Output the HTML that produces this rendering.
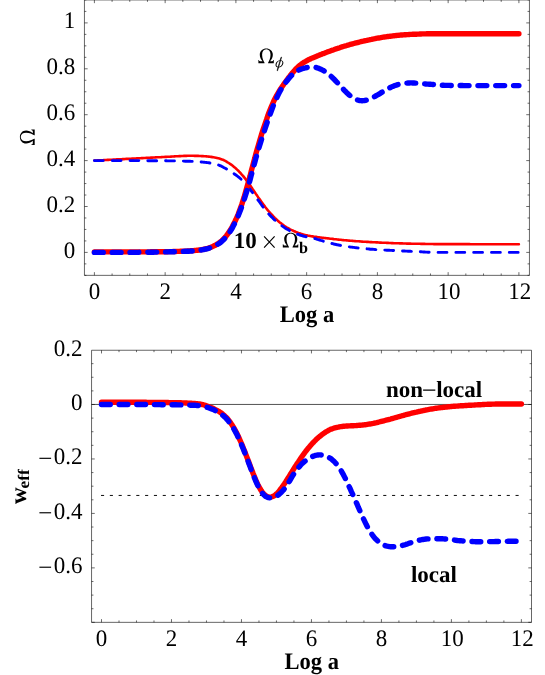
<!DOCTYPE html>
<html><head><meta charset="utf-8"><title>plot</title>
<style>html,body{margin:0;padding:0;background:#fff;}svg{display:block;will-change:transform;}</style></head>
<body>
<svg width="545" height="675" viewBox="0 0 545 675">
<rect width="545" height="675" fill="#fff"/>
<g>
<path d="M94.4,160.5 95.6,160.5 96.8,160.5 97.9,160.4 99.1,160.3 100.3,160.3 101.5,160.2 102.7,160.2 103.8,160.1 105.0,160.0 106.2,160.0 107.4,159.9 108.6,159.9 109.7,159.8 110.9,159.7 112.1,159.7 113.3,159.6 114.4,159.6 115.6,159.5 116.8,159.4 118.0,159.4 119.2,159.3 120.3,159.3 121.5,159.2 122.7,159.1 123.9,159.1 125.1,159.0 126.2,158.9 127.4,158.9 128.6,158.8 129.8,158.8 131.0,158.7 132.1,158.6 133.3,158.6 134.5,158.5 135.7,158.5 136.8,158.4 138.0,158.3 139.2,158.3 140.4,158.2 141.6,158.1 142.7,158.1 143.9,158.0 145.1,158.0 146.3,157.9 147.5,157.8 148.6,157.8 149.8,157.7 151.0,157.6 152.2,157.6 153.4,157.5 154.5,157.5 155.7,157.4 156.9,157.3 158.1,157.3 159.3,157.2 160.4,157.2 161.6,157.1 162.8,157.0 164.0,157.0 165.2,156.9 166.3,156.9 167.5,156.8 168.7,156.7 169.9,156.7 171.0,156.6 172.2,156.5 173.4,156.5 174.6,156.4 175.8,156.3 176.9,156.2 178.1,156.2 179.3,156.1 180.5,156.1 181.7,156.0 182.8,156.0 184.0,155.9 185.2,155.9 186.4,155.9 187.6,155.8 188.7,155.8 189.9,155.8 191.1,155.8 192.3,155.8 193.4,155.8 194.6,155.9 195.8,155.9 197.0,155.9 198.2,155.9 199.3,156.0 200.5,156.0 201.7,156.1 202.9,156.1 204.1,156.2 205.2,156.3 206.4,156.4 207.6,156.5 208.8,156.6 210.0,156.7 211.1,156.9 212.3,157.1 213.5,157.3 214.7,157.5 215.9,157.7 217.0,158.0 218.2,158.3 219.4,158.6 220.6,159.0 221.8,159.4 222.9,159.8 224.1,160.3 225.3,160.9 226.5,161.6 227.6,162.3 228.8,163.0 230.0,163.8 231.2,164.6 232.4,165.5 233.5,166.4 234.7,167.4 235.9,168.5 237.1,169.6 238.3,170.7 239.4,172.0 240.6,173.2 241.8,174.6 243.0,175.9 244.2,177.4 245.3,178.8 246.5,180.4 247.7,181.9 248.9,183.6 250.1,185.2 251.2,186.9 252.4,188.7 253.6,190.4 254.8,192.2 255.9,193.9 257.1,195.6 258.3,197.4 259.5,199.1 260.7,200.8 261.8,202.4 263.0,204.0 264.2,205.6 265.4,207.2 266.6,208.7 267.7,210.1 268.9,211.5 270.1,212.9 271.3,214.2 272.5,215.5 273.6,216.7 274.8,217.9 276.0,219.0 277.2,220.1 278.4,221.2 279.5,222.2 280.7,223.1 281.9,224.1 283.1,224.9 284.2,225.8 285.4,226.5 286.6,227.3 287.8,228.0 289.0,228.6 290.1,229.3 291.3,229.9 292.5,230.4 293.7,231.0 294.9,231.5 296.0,232.0 297.2,232.4 298.4,232.9 299.6,233.3 300.8,233.7 301.9,234.1 303.1,234.4 304.3,234.8 305.5,235.1 306.6,235.3 307.8,235.6 309.0,235.8 310.2,236.0 311.4,236.2 312.5,236.4 313.7,236.6 314.9,236.7 316.1,236.9 317.3,237.1 318.4,237.2 319.6,237.4 320.8,237.5 322.0,237.7 323.2,237.8 324.3,238.0 325.5,238.1 326.7,238.3 327.9,238.4 329.1,238.5 330.2,238.7 331.4,238.8 332.6,238.9 333.8,239.1 334.9,239.2 336.1,239.3 337.3,239.5 338.5,239.6 339.7,239.7 340.8,239.8 342.0,240.0 343.2,240.1 344.4,240.2 345.6,240.3 346.7,240.4 347.9,240.5 349.1,240.6 350.3,240.7 351.5,240.8 352.6,240.9 353.8,241.0 355.0,241.1 356.2,241.2 357.4,241.3 358.5,241.3 359.7,241.4 360.9,241.5 362.1,241.6 363.2,241.7 364.4,241.7 365.6,241.8 366.8,241.9 368.0,241.9 369.1,242.0 370.3,242.1 371.5,242.1 372.7,242.2 373.9,242.3 375.0,242.3 376.2,242.4 377.4,242.4 378.6,242.5 379.8,242.6 380.9,242.6 382.1,242.7 383.3,242.7 384.5,242.8 385.7,242.8 386.8,242.9 388.0,242.9 389.2,243.0 390.4,243.0 391.6,243.1 392.7,243.1 393.9,243.2 395.1,243.2 396.3,243.3 397.4,243.3 398.6,243.3 399.8,243.4 401.0,243.4 402.2,243.4 403.3,243.5 404.5,243.5 405.7,243.5 406.9,243.6 408.1,243.6 409.2,243.6 410.4,243.6 411.6,243.7 412.8,243.7 414.0,243.7 415.1,243.7 416.3,243.8 417.5,243.8 418.7,243.8 419.9,243.8 421.0,243.9 422.2,243.9 423.4,243.9 424.6,243.9 425.7,244.0 426.9,244.0 428.1,244.0 429.3,244.0 430.5,244.0 431.6,244.0 432.8,244.0 434.0,244.1 435.2,244.1 436.4,244.1 437.5,244.1 438.7,244.1 439.9,244.1 441.1,244.1 442.3,244.1 443.4,244.1 444.6,244.1 445.8,244.1 447.0,244.1 448.1,244.1 449.3,244.1 450.5,244.1 451.7,244.1 452.9,244.1 454.0,244.1 455.2,244.1 456.4,244.1 457.6,244.1 458.8,244.1 459.9,244.1 461.1,244.1 462.3,244.1 463.5,244.1 464.7,244.1 465.8,244.1 467.0,244.1 468.2,244.1 469.4,244.1 470.6,244.2 471.7,244.2 472.9,244.2 474.1,244.2 475.3,244.2 476.5,244.2 477.6,244.2 478.8,244.2 480.0,244.2 481.2,244.2 482.3,244.2 483.5,244.2 484.7,244.2 485.9,244.2 487.1,244.2 488.2,244.2 489.4,244.2 490.6,244.2 491.8,244.2 493.0,244.2 494.1,244.2 495.3,244.2 496.5,244.2 497.7,244.2 498.9,244.2 500.0,244.2 501.2,244.2 502.4,244.2 503.6,244.2 504.8,244.2 505.9,244.2 507.1,244.2 508.3,244.2 509.5,244.2 510.6,244.2 511.8,244.2 513.0,244.2 514.2,244.2 515.4,244.2 516.5,244.2 517.7,244.2 518.9,244.2" fill="none" stroke="#ff0000" stroke-width="2.6" stroke-linecap="round" stroke-linejoin="round"/>
<path d="M94.4,160.6 95.6,160.6 96.8,160.6 97.9,160.6 99.1,160.6 100.3,160.6 101.5,160.6 102.7,160.6 103.8,160.6 105.0,160.6 106.2,160.6 107.4,160.6 108.6,160.6 109.7,160.6 110.9,160.6 112.1,160.6 113.3,160.6 114.4,160.6 115.6,160.6 116.8,160.6 118.0,160.6 119.2,160.6 120.3,160.6 121.5,160.6 122.7,160.6 123.9,160.6 125.1,160.6 126.2,160.6 127.4,160.6 128.6,160.6 129.8,160.6 131.0,160.6 132.1,160.6 133.3,160.6 134.5,160.6 135.7,160.6 136.8,160.6 138.0,160.6 139.2,160.6 140.4,160.6 141.6,160.6 142.7,160.6 143.9,160.6 145.1,160.7 146.3,160.7 147.5,160.7 148.6,160.7 149.8,160.7 151.0,160.7 152.2,160.7 153.4,160.7 154.5,160.7 155.7,160.7 156.9,160.8 158.1,160.8 159.3,160.8 160.4,160.8 161.6,160.8 162.8,160.8 164.0,160.8 165.2,160.8 166.3,160.8 167.5,160.9 168.7,160.9 169.9,160.9 171.0,160.9 172.2,160.9 173.4,160.9 174.6,160.9 175.8,161.0 176.9,161.0 178.1,161.0 179.3,161.0 180.5,161.1 181.7,161.1 182.8,161.1 184.0,161.1 185.2,161.2 186.4,161.2 187.6,161.2 188.7,161.3 189.9,161.3 191.1,161.4 192.3,161.4 193.4,161.5 194.6,161.5 195.8,161.6 197.0,161.7 198.2,161.7 199.3,161.8 200.5,161.9 201.7,162.0 202.9,162.1 204.1,162.2 205.2,162.4 206.4,162.5 207.6,162.6 208.8,162.8 210.0,163.0 211.1,163.1 212.3,163.3 213.5,163.5 214.7,163.8 215.9,164.1 217.0,164.4 218.2,164.8 219.4,165.3 220.6,165.8 221.8,166.4 222.9,167.0 224.1,167.7 225.3,168.3 226.5,169.0 227.6,169.7 228.8,170.4 230.0,171.2 231.2,171.9 232.4,172.6 233.5,173.4 234.7,174.2 235.9,175.0 237.1,175.9 238.3,176.8 239.4,177.7 240.6,178.8 241.8,179.9 243.0,181.0 244.2,182.2 245.3,183.5 246.5,184.9 247.7,186.3 248.9,187.8 250.1,189.3 251.2,190.8 252.4,192.4 253.6,194.0 254.8,195.6 255.9,197.2 257.1,198.8 258.3,200.4 259.5,202.0 260.7,203.7 261.8,205.3 263.0,206.9 264.2,208.4 265.4,209.9 266.6,211.4 267.7,212.8 268.9,214.1 270.1,215.4 271.3,216.6 272.5,217.8 273.6,219.0 274.8,220.1 276.0,221.1 277.2,222.1 278.4,223.1 279.5,224.1 280.7,224.9 281.9,225.8 283.1,226.6 284.2,227.4 285.4,228.2 286.6,228.9 287.8,229.6 289.0,230.3 290.1,230.9 291.3,231.5 292.5,232.1 293.7,232.6 294.9,233.1 296.0,233.6 297.2,234.1 298.4,234.5 299.6,235.0 300.8,235.3 301.9,235.7 303.1,236.0 304.3,236.3 305.5,236.6 306.6,236.9 307.8,237.1 309.0,237.3 310.2,237.6 311.4,237.8 312.5,238.1 313.7,238.3 314.9,238.6 316.1,238.9 317.3,239.3 318.4,239.6 319.6,240.0 320.8,240.4 322.0,240.7 323.2,241.1 324.3,241.5 325.5,241.8 326.7,242.2 327.9,242.5 329.1,242.8 330.2,243.1 331.4,243.4 332.6,243.7 333.8,244.0 334.9,244.3 336.1,244.5 337.3,244.8 338.5,245.0 339.7,245.2 340.8,245.5 342.0,245.7 343.2,245.9 344.4,246.1 345.6,246.3 346.7,246.5 347.9,246.6 349.1,246.8 350.3,247.0 351.5,247.1 352.6,247.3 353.8,247.4 355.0,247.6 356.2,247.7 357.4,247.9 358.5,248.0 359.7,248.1 360.9,248.2 362.1,248.4 363.2,248.5 364.4,248.6 365.6,248.7 366.8,248.8 368.0,248.9 369.1,249.0 370.3,249.2 371.5,249.2 372.7,249.3 373.9,249.4 375.0,249.5 376.2,249.6 377.4,249.7 378.6,249.8 379.8,249.8 380.9,249.9 382.1,250.0 383.3,250.0 384.5,250.1 385.7,250.1 386.8,250.2 388.0,250.3 389.2,250.3 390.4,250.4 391.6,250.4 392.7,250.5 393.9,250.5 395.1,250.6 396.3,250.6 397.4,250.7 398.6,250.7 399.8,250.8 401.0,250.8 402.2,250.9 403.3,251.0 404.5,251.0 405.7,251.1 406.9,251.1 408.1,251.2 409.2,251.2 410.4,251.3 411.6,251.4 412.8,251.4 414.0,251.5 415.1,251.6 416.3,251.6 417.5,251.7 418.7,251.7 419.9,251.8 421.0,251.8 422.2,251.9 423.4,252.0 424.6,252.0 425.7,252.1 426.9,252.1 428.1,252.2 429.3,252.2 430.5,252.2 431.6,252.3 432.8,252.3 434.0,252.3 435.2,252.3 436.4,252.4 437.5,252.4 438.7,252.4 439.9,252.4 441.1,252.4 442.3,252.4 443.4,252.4 444.6,252.4 445.8,252.4 447.0,252.4 448.1,252.4 449.3,252.4 450.5,252.4 451.7,252.4 452.9,252.4 454.0,252.4 455.2,252.4 456.4,252.4 457.6,252.4 458.8,252.4 459.9,252.4 461.1,252.4 462.3,252.4 463.5,252.4 464.7,252.4 465.8,252.4 467.0,252.4 468.2,252.4 469.4,252.4 470.6,252.4 471.7,252.4 472.9,252.4 474.1,252.4 475.3,252.4 476.5,252.4 477.6,252.4 478.8,252.4 480.0,252.4 481.2,252.4 482.3,252.4 483.5,252.4 484.7,252.4 485.9,252.4 487.1,252.4 488.2,252.4 489.4,252.4 490.6,252.4 491.8,252.4 493.0,252.4 494.1,252.4 495.3,252.4 496.5,252.4 497.7,252.4 498.9,252.4 500.0,252.4 501.2,252.4 502.4,252.4 503.6,252.4 504.8,252.4 505.9,252.4 507.1,252.4 508.3,252.4 509.5,252.4 510.6,252.4 511.8,252.4 513.0,252.4 514.2,252.4 515.4,252.4 516.5,252.4 517.7,252.4 518.9,252.4" fill="none" stroke="#0000ff" stroke-width="2.9" stroke-linecap="round" stroke-linejoin="round" stroke-dasharray="8.85 8.95"/>
<path d="M94.4,251.9 95.6,251.9 96.8,251.9 97.9,251.9 99.1,251.9 100.3,251.9 101.5,251.9 102.7,251.9 103.8,251.9 105.0,251.9 106.2,251.9 107.4,251.9 108.6,251.9 109.7,251.9 110.9,251.9 112.1,251.9 113.3,251.9 114.4,251.9 115.6,251.9 116.8,251.9 118.0,251.9 119.2,251.9 120.3,251.9 121.5,251.9 122.7,251.9 123.9,251.9 125.1,251.9 126.2,251.9 127.4,251.9 128.6,251.9 129.8,251.9 131.0,251.9 132.1,251.9 133.3,251.9 134.5,251.9 135.7,251.9 136.8,251.9 138.0,251.9 139.2,251.9 140.4,251.9 141.6,251.9 142.7,251.9 143.9,251.9 145.1,251.9 146.3,251.9 147.5,251.9 148.6,251.9 149.8,251.9 151.0,251.8 152.2,251.8 153.4,251.8 154.5,251.8 155.7,251.8 156.9,251.8 158.1,251.8 159.3,251.8 160.4,251.8 161.6,251.7 162.8,251.7 164.0,251.7 165.2,251.7 166.3,251.7 167.5,251.7 168.7,251.6 169.9,251.6 171.0,251.6 172.2,251.6 173.4,251.5 174.6,251.5 175.8,251.5 176.9,251.4 178.1,251.4 179.3,251.4 180.5,251.3 181.7,251.3 182.8,251.2 184.0,251.2 185.2,251.1 186.4,251.1 187.6,251.0 188.7,250.9 189.9,250.9 191.1,250.8 192.3,250.7 193.4,250.6 194.6,250.5 195.8,250.4 197.0,250.3 198.2,250.2 199.3,250.0 200.5,249.9 201.7,249.7 202.9,249.5 204.1,249.2 205.2,249.0 206.4,248.7 207.6,248.4 208.8,248.0 210.0,247.6 211.1,247.1 212.3,246.7 213.5,246.1 214.7,245.6 215.9,244.9 217.0,244.2 218.2,243.5 219.4,242.6 220.6,241.7 221.8,240.7 222.9,239.6 224.1,238.4 225.3,237.1 226.5,235.6 227.6,234.1 228.8,232.4 230.0,230.6 231.2,228.6 232.4,226.5 233.5,224.3 234.7,222.0 235.9,219.5 237.1,216.8 238.3,214.0 239.4,211.0 240.6,207.8 241.8,204.4 243.0,200.7 244.2,196.9 245.3,192.9 246.5,188.8 247.7,184.5 248.9,180.2 250.1,175.8 251.2,171.3 252.4,166.9 253.6,162.4 254.8,158.1 255.9,153.7 257.1,149.5 258.3,145.4 259.5,141.4 260.7,137.4 261.8,133.6 263.0,129.9 264.2,126.3 265.4,122.8 266.6,119.4 267.7,116.0 268.9,112.8 270.1,109.8 271.3,106.8 272.5,104.1 273.6,101.5 274.8,99.0 276.0,96.7 277.2,94.6 278.4,92.5 279.5,90.6 280.7,88.7 281.9,87.0 283.1,85.3 284.2,83.6 285.4,82.0 286.6,80.4 287.8,78.8 289.0,77.3 290.1,75.8 291.3,74.3 292.5,72.8 293.7,71.4 294.9,70.1 296.0,68.8 297.2,67.7 298.4,66.6 299.6,65.5 300.8,64.6 301.9,63.7 303.1,62.9 304.3,62.2 305.5,61.5 306.6,60.8 307.8,60.1 309.0,59.5 310.2,59.0 311.4,58.4 312.5,57.9 313.7,57.4 314.9,56.9 316.1,56.4 317.3,55.9 318.4,55.5 319.6,55.0 320.8,54.5 322.0,54.1 323.2,53.6 324.3,53.2 325.5,52.7 326.7,52.3 327.9,51.8 329.1,51.4 330.2,51.0 331.4,50.5 332.6,50.1 333.8,49.7 334.9,49.3 336.1,48.9 337.3,48.5 338.5,48.1 339.7,47.7 340.8,47.3 342.0,46.9 343.2,46.5 344.4,46.2 345.6,45.8 346.7,45.5 347.9,45.1 349.1,44.8 350.3,44.4 351.5,44.1 352.6,43.8 353.8,43.5 355.0,43.2 356.2,42.9 357.4,42.6 358.5,42.3 359.7,42.0 360.9,41.7 362.1,41.4 363.2,41.2 364.4,40.9 365.6,40.6 366.8,40.4 368.0,40.1 369.1,39.9 370.3,39.6 371.5,39.4 372.7,39.1 373.9,38.9 375.0,38.7 376.2,38.4 377.4,38.2 378.6,38.0 379.8,37.8 380.9,37.6 382.1,37.4 383.3,37.2 384.5,37.0 385.7,36.9 386.8,36.7 388.0,36.5 389.2,36.4 390.4,36.2 391.6,36.1 392.7,35.9 393.9,35.8 395.1,35.6 396.3,35.5 397.4,35.4 398.6,35.3 399.8,35.1 401.0,35.0 402.2,35.0 403.3,34.9 404.5,34.8 405.7,34.7 406.9,34.6 408.1,34.6 409.2,34.5 410.4,34.4 411.6,34.4 412.8,34.3 414.0,34.3 415.1,34.2 416.3,34.2 417.5,34.1 418.7,34.1 419.9,34.0 421.0,34.0 422.2,33.9 423.4,33.9 424.6,33.9 425.7,33.9 426.9,33.8 428.1,33.8 429.3,33.8 430.5,33.8 431.6,33.8 432.8,33.8 434.0,33.8 435.2,33.8 436.4,33.8 437.5,33.8 438.7,33.8 439.9,33.8 441.1,33.8 442.3,33.8 443.4,33.8 444.6,33.8 445.8,33.8 447.0,33.8 448.1,33.8 449.3,33.8 450.5,33.8 451.7,33.8 452.9,33.8 454.0,33.8 455.2,33.8 456.4,33.8 457.6,33.8 458.8,33.8 459.9,33.8 461.1,33.8 462.3,33.8 463.5,33.8 464.7,33.8 465.8,33.8 467.0,33.8 468.2,33.8 469.4,33.8 470.6,33.8 471.7,33.8 472.9,33.8 474.1,33.8 475.3,33.8 476.5,33.8 477.6,33.8 478.8,33.8 480.0,33.8 481.2,33.8 482.3,33.8 483.5,33.8 484.7,33.8 485.9,33.8 487.1,33.8 488.2,33.8 489.4,33.8 490.6,33.8 491.8,33.8 493.0,33.8 494.1,33.8 495.3,33.8 496.5,33.8 497.7,33.8 498.9,33.8 500.0,33.8 501.2,33.8 502.4,33.8 503.6,33.8 504.8,33.8 505.9,33.8 507.1,33.8 508.3,33.8 509.5,33.8 510.6,33.8 511.8,33.8 513.0,33.8 514.2,33.8 515.4,33.8 516.5,33.8 517.7,33.8 518.9,33.8" fill="none" stroke="#ff0000" stroke-width="5.4" stroke-linecap="round" stroke-linejoin="round"/>
<path d="M94.4,252.4 95.6,252.4 96.8,252.4 97.9,252.4 99.1,252.4 100.3,252.4 101.5,252.4 102.7,252.4 103.8,252.4 105.0,252.4 106.2,252.4 107.4,252.4 108.6,252.4 109.7,252.4 110.9,252.4 112.1,252.4 113.3,252.4 114.4,252.4 115.6,252.4 116.8,252.4 118.0,252.4 119.2,252.4 120.3,252.4 121.5,252.4 122.7,252.4 123.9,252.4 125.1,252.4 126.2,252.4 127.4,252.4 128.6,252.4 129.8,252.4 131.0,252.4 132.1,252.4 133.3,252.4 134.5,252.4 135.7,252.4 136.8,252.4 138.0,252.4 139.2,252.3 140.4,252.3 141.6,252.3 142.7,252.3 143.9,252.3 145.1,252.3 146.3,252.3 147.5,252.3 148.6,252.2 149.8,252.2 151.0,252.2 152.2,252.2 153.4,252.2 154.5,252.1 155.7,252.1 156.9,252.1 158.1,252.1 159.3,252.1 160.4,252.0 161.6,252.0 162.8,252.0 164.0,252.0 165.2,251.9 166.3,251.9 167.5,251.9 168.7,251.9 169.9,251.8 171.0,251.8 172.2,251.8 173.4,251.8 174.6,251.7 175.8,251.7 176.9,251.7 178.1,251.6 179.3,251.6 180.5,251.5 181.7,251.5 182.8,251.4 184.0,251.4 185.2,251.3 186.4,251.3 187.6,251.2 188.7,251.2 189.9,251.1 191.1,251.0 192.3,251.0 193.4,250.9 194.6,250.8 195.8,250.7 197.0,250.5 198.2,250.4 199.3,250.3 200.5,250.1 201.7,249.9 202.9,249.7 204.1,249.5 205.2,249.2 206.4,249.0 207.6,248.6 208.8,248.3 210.0,247.9 211.1,247.5 212.3,247.0 213.5,246.5 214.7,246.0 215.9,245.4 217.0,244.7 218.2,244.0 219.4,243.2 220.6,242.4 221.8,241.4 222.9,240.3 224.1,239.2 225.3,237.9 226.5,236.6 227.6,235.1 228.8,233.5 230.0,231.7 231.2,229.8 232.4,227.8 233.5,225.6 234.7,223.3 235.9,220.9 237.1,218.3 238.3,215.6 239.4,212.7 240.6,209.7 241.8,206.5 243.0,203.1 244.2,199.6 245.3,195.9 246.5,192.1 247.7,188.1 248.9,184.0 250.1,179.7 251.2,175.4 252.4,171.0 253.6,166.7 254.8,162.3 255.9,158.1 257.1,154.0 258.3,149.9 259.5,146.0 260.7,142.2 261.8,138.5 263.0,134.8 264.2,131.2 265.4,127.7 266.6,124.2 267.7,120.8 268.9,117.4 270.1,114.2 271.3,111.0 272.5,107.9 273.6,104.9 274.8,102.0 276.0,99.3 277.2,96.8 278.4,94.4 279.5,92.1 280.7,90.0 281.9,88.0 283.1,86.2 284.2,84.4 285.4,82.8 286.6,81.2 287.8,79.7 289.0,78.3 290.1,77.0 291.3,75.7 292.5,74.5 293.7,73.5 294.9,72.5 296.0,71.7 297.2,70.9 298.4,70.3 299.6,69.7 300.8,69.2 301.9,68.8 303.1,68.5 304.3,68.1 305.5,67.9 306.6,67.6 307.8,67.4 309.0,67.3 310.2,67.2 311.4,67.1 312.5,67.1 313.7,67.2 314.9,67.3 316.1,67.5 317.3,67.9 318.4,68.2 319.6,68.7 320.8,69.2 322.0,69.8 323.2,70.4 324.3,71.1 325.5,71.9 326.7,72.7 327.9,73.6 329.1,74.6 330.2,75.6 331.4,76.6 332.6,77.8 333.8,78.9 334.9,80.1 336.1,81.4 337.3,82.6 338.5,83.9 339.7,85.2 340.8,86.5 342.0,87.7 343.2,89.0 344.4,90.3 345.6,91.5 346.7,92.7 347.9,93.8 349.1,94.9 350.3,95.9 351.5,96.8 352.6,97.7 353.8,98.4 355.0,99.0 356.2,99.5 357.4,99.9 358.5,100.3 359.7,100.5 360.9,100.6 362.1,100.7 363.2,100.6 364.4,100.5 365.6,100.3 366.8,100.0 368.0,99.6 369.1,99.2 370.3,98.7 371.5,98.2 372.7,97.6 373.9,97.0 375.0,96.4 376.2,95.7 377.4,95.0 378.6,94.3 379.8,93.6 380.9,92.9 382.1,92.2 383.3,91.4 384.5,90.7 385.7,90.0 386.8,89.3 388.0,88.7 389.2,88.1 390.4,87.5 391.6,86.9 392.7,86.4 393.9,85.9 395.1,85.5 396.3,85.1 397.4,84.7 398.6,84.4 399.8,84.1 401.0,83.9 402.2,83.7 403.3,83.5 404.5,83.3 405.7,83.2 406.9,83.1 408.1,83.0 409.2,83.0 410.4,82.9 411.6,82.9 412.8,83.0 414.0,83.0 415.1,83.1 416.3,83.2 417.5,83.3 418.7,83.4 419.9,83.5 421.0,83.6 422.2,83.7 423.4,83.8 424.6,83.9 425.7,84.0 426.9,84.1 428.1,84.1 429.3,84.2 430.5,84.3 431.6,84.4 432.8,84.5 434.0,84.6 435.2,84.7 436.4,84.9 437.5,85.0 438.7,85.1 439.9,85.1 441.1,85.2 442.3,85.3 443.4,85.3 444.6,85.4 445.8,85.4 447.0,85.4 448.1,85.4 449.3,85.4 450.5,85.5 451.7,85.5 452.9,85.5 454.0,85.5 455.2,85.5 456.4,85.5 457.6,85.5 458.8,85.5 459.9,85.5 461.1,85.5 462.3,85.5 463.5,85.6 464.7,85.6 465.8,85.6 467.0,85.6 468.2,85.6 469.4,85.6 470.6,85.6 471.7,85.6 472.9,85.6 474.1,85.6 475.3,85.6 476.5,85.6 477.6,85.6 478.8,85.6 480.0,85.6 481.2,85.6 482.3,85.6 483.5,85.6 484.7,85.6 485.9,85.6 487.1,85.6 488.2,85.6 489.4,85.6 490.6,85.6 491.8,85.6 493.0,85.6 494.1,85.6 495.3,85.6 496.5,85.6 497.7,85.6 498.9,85.6 500.0,85.6 501.2,85.6 502.4,85.6 503.6,85.6 504.8,85.6 505.9,85.6 507.1,85.6 508.3,85.6 509.5,85.6 510.6,85.6 511.8,85.6 513.0,85.6 514.2,85.6 515.4,85.6 516.5,85.6 517.7,85.6 518.9,85.6" fill="none" stroke="#0000ff" stroke-width="5.4" stroke-linecap="round" stroke-linejoin="round" stroke-dasharray="8.85 8.95"/>
<path d="M84.45,-0.05H529.45V275.37H84.45Z" fill="none" stroke="#080808" stroke-width="0.62"/><path d="M94.40,275.37v-3.2M94.40,-0.05v3.2M112.09,275.37v-1.9M112.09,-0.05v1.9M129.78,275.37v-1.9M129.78,-0.05v1.9M147.46,275.37v-1.9M147.46,-0.05v1.9M165.15,275.37v-3.2M165.15,-0.05v3.2M182.84,275.37v-1.9M182.84,-0.05v1.9M200.53,275.37v-1.9M200.53,-0.05v1.9M218.21,275.37v-1.9M218.21,-0.05v1.9M235.90,275.37v-3.2M235.90,-0.05v3.2M253.59,275.37v-1.9M253.59,-0.05v1.9M271.27,275.37v-1.9M271.27,-0.05v1.9M288.96,275.37v-1.9M288.96,-0.05v1.9M306.65,275.37v-3.2M306.65,-0.05v3.2M324.34,275.37v-1.9M324.34,-0.05v1.9M342.02,275.37v-1.9M342.02,-0.05v1.9M359.71,275.37v-1.9M359.71,-0.05v1.9M377.40,275.37v-3.2M377.40,-0.05v3.2M395.09,275.37v-1.9M395.09,-0.05v1.9M412.77,275.37v-1.9M412.77,-0.05v1.9M430.46,275.37v-1.9M430.46,-0.05v1.9M448.15,275.37v-3.2M448.15,-0.05v3.2M465.84,275.37v-1.9M465.84,-0.05v1.9M483.52,275.37v-1.9M483.52,-0.05v1.9M501.21,275.37v-1.9M501.21,-0.05v1.9M518.90,275.37v-3.2M518.90,-0.05v3.2M84.45,275.35h1.9M529.45,275.35h-1.9M84.45,263.88h1.9M529.45,263.88h-1.9M84.45,252.40h3.2M529.45,252.40h-3.2M84.45,240.93h1.9M529.45,240.93h-1.9M84.45,229.45h1.9M529.45,229.45h-1.9M84.45,217.98h1.9M529.45,217.98h-1.9M84.45,206.50h3.2M529.45,206.50h-3.2M84.45,195.03h1.9M529.45,195.03h-1.9M84.45,183.55h1.9M529.45,183.55h-1.9M84.45,172.08h1.9M529.45,172.08h-1.9M84.45,160.60h3.2M529.45,160.60h-3.2M84.45,149.12h1.9M529.45,149.12h-1.9M84.45,137.65h1.9M529.45,137.65h-1.9M84.45,126.17h1.9M529.45,126.17h-1.9M84.45,114.70h3.2M529.45,114.70h-3.2M84.45,103.22h1.9M529.45,103.22h-1.9M84.45,91.75h1.9M529.45,91.75h-1.9M84.45,80.28h1.9M529.45,80.28h-1.9M84.45,68.80h3.2M529.45,68.80h-3.2M84.45,57.33h1.9M529.45,57.33h-1.9M84.45,45.85h1.9M529.45,45.85h-1.9M84.45,34.38h1.9M529.45,34.38h-1.9M84.45,22.90h3.2M529.45,22.90h-3.2M84.45,11.42h1.9M529.45,11.42h-1.9M84.45,-0.05h1.9M529.45,-0.05h-1.9" fill="none" stroke="#080808" stroke-width="0.6"/>
</g>
<g>
<path d="M91.55,404.45H531.5" stroke="#080808" stroke-width="0.7" fill="none"/>
<path d="M101.0,495.45H519.2" stroke="#000" stroke-width="0.95" fill="none" stroke-dasharray="3.1 5.72"/>
<path d="M101.5,402.3 102.7,402.3 103.8,402.3 105.0,402.3 106.2,402.3 107.3,402.3 108.5,402.3 109.7,402.3 110.8,402.3 112.0,402.3 113.2,402.3 114.3,402.3 115.5,402.3 116.7,402.3 117.8,402.3 119.0,402.3 120.2,402.3 121.3,402.3 122.5,402.3 123.7,402.3 124.8,402.3 126.0,402.3 127.2,402.3 128.3,402.3 129.5,402.3 130.7,402.3 131.8,402.3 133.0,402.3 134.2,402.3 135.3,402.3 136.5,402.3 137.7,402.3 138.8,402.3 140.0,402.3 141.2,402.3 142.3,402.3 143.5,402.3 144.7,402.3 145.8,402.3 147.0,402.4 148.2,402.4 149.3,402.4 150.5,402.4 151.7,402.4 152.8,402.4 154.0,402.4 155.2,402.4 156.3,402.4 157.5,402.4 158.7,402.4 159.8,402.5 161.0,402.5 162.1,402.5 163.3,402.5 164.5,402.5 165.6,402.5 166.8,402.5 168.0,402.5 169.1,402.6 170.3,402.6 171.5,402.6 172.6,402.6 173.8,402.6 175.0,402.7 176.1,402.7 177.3,402.7 178.5,402.7 179.6,402.8 180.8,402.8 182.0,402.9 183.1,402.9 184.3,402.9 185.5,403.0 186.6,403.0 187.8,403.1 189.0,403.2 190.1,403.2 191.3,403.3 192.5,403.4 193.6,403.5 194.8,403.5 196.0,403.6 197.1,403.7 198.3,403.9 199.5,404.0 200.6,404.2 201.8,404.5 203.0,404.7 204.1,405.0 205.3,405.4 206.5,405.8 207.6,406.2 208.8,406.7 210.0,407.1 211.1,407.6 212.3,408.1 213.5,408.6 214.6,409.2 215.8,409.8 217.0,410.4 218.1,411.0 219.3,411.7 220.5,412.5 221.6,413.3 222.8,414.2 224.0,415.2 225.1,416.3 226.3,417.5 227.5,418.7 228.6,420.1 229.8,421.7 231.0,423.3 232.1,425.1 233.3,426.9 234.5,429.0 235.6,431.1 236.8,433.3 238.0,435.7 239.1,438.2 240.3,440.8 241.5,443.5 242.6,446.3 243.8,449.2 245.0,452.1 246.1,455.1 247.3,458.2 248.5,461.2 249.6,464.3 250.8,467.4 252.0,470.5 253.1,473.5 254.3,476.4 255.5,479.2 256.6,481.9 257.8,484.4 259.0,486.7 260.1,488.8 261.3,490.7 262.5,492.3 263.6,493.7 264.8,494.8 266.0,495.8 267.1,496.4 268.3,496.9 269.5,497.1 270.6,497.1 271.8,496.8 273.0,496.4 274.1,495.8 275.3,494.9 276.5,493.9 277.6,492.8 278.8,491.5 279.9,490.0 281.1,488.5 282.3,486.9 283.4,485.2 284.6,483.5 285.8,481.7 286.9,479.9 288.1,478.0 289.3,476.2 290.4,474.3 291.6,472.4 292.8,470.6 293.9,468.7 295.1,466.8 296.3,465.0 297.4,463.2 298.6,461.5 299.8,459.7 300.9,458.0 302.1,456.3 303.3,454.7 304.4,453.1 305.6,451.5 306.8,450.0 307.9,448.6 309.1,447.2 310.3,445.8 311.4,444.5 312.6,443.2 313.8,442.0 314.9,440.8 316.1,439.6 317.3,438.5 318.4,437.5 319.6,436.5 320.8,435.6 321.9,434.7 323.1,433.8 324.3,433.0 325.4,432.2 326.6,431.5 327.8,430.8 328.9,430.2 330.1,429.6 331.3,429.1 332.4,428.7 333.6,428.3 334.8,427.9 335.9,427.6 337.1,427.3 338.3,427.1 339.4,426.8 340.6,426.6 341.8,426.5 342.9,426.3 344.1,426.2 345.3,426.1 346.4,426.0 347.6,426.0 348.8,425.9 349.9,425.9 351.1,425.8 352.3,425.8 353.4,425.7 354.6,425.6 355.8,425.6 356.9,425.5 358.1,425.4 359.3,425.3 360.4,425.2 361.6,425.1 362.8,425.0 363.9,424.9 365.1,424.7 366.3,424.6 367.4,424.4 368.6,424.2 369.8,424.0 370.9,423.8 372.1,423.6 373.3,423.4 374.4,423.1 375.6,422.8 376.8,422.6 377.9,422.3 379.1,422.0 380.3,421.7 381.4,421.4 382.6,421.1 383.8,420.8 384.9,420.5 386.1,420.2 387.3,419.9 388.4,419.6 389.6,419.3 390.8,419.0 391.9,418.6 393.1,418.3 394.2,418.0 395.4,417.7 396.6,417.3 397.7,417.0 398.9,416.7 400.1,416.3 401.2,416.0 402.4,415.7 403.6,415.4 404.7,415.0 405.9,414.7 407.1,414.4 408.2,414.1 409.4,413.8 410.6,413.5 411.7,413.2 412.9,412.9 414.1,412.6 415.2,412.3 416.4,412.1 417.6,411.8 418.7,411.5 419.9,411.3 421.1,411.0 422.2,410.8 423.4,410.5 424.6,410.3 425.7,410.0 426.9,409.8 428.1,409.6 429.2,409.4 430.4,409.2 431.6,409.0 432.7,408.8 433.9,408.6 435.1,408.4 436.2,408.2 437.4,408.1 438.6,407.9 439.7,407.8 440.9,407.6 442.1,407.5 443.2,407.3 444.4,407.2 445.6,407.1 446.7,407.0 447.9,406.8 449.1,406.7 450.2,406.6 451.4,406.5 452.6,406.4 453.7,406.3 454.9,406.2 456.1,406.1 457.2,406.1 458.4,406.0 459.6,405.9 460.7,405.8 461.9,405.7 463.1,405.7 464.2,405.6 465.4,405.5 466.6,405.5 467.7,405.4 468.9,405.3 470.1,405.3 471.2,405.2 472.4,405.1 473.6,405.1 474.7,405.0 475.9,404.9 477.1,404.9 478.2,404.8 479.4,404.7 480.6,404.7 481.7,404.6 482.9,404.5 484.1,404.5 485.2,404.4 486.4,404.4 487.6,404.3 488.7,404.2 489.9,404.2 491.1,404.2 492.2,404.1 493.4,404.1 494.6,404.1 495.7,404.0 496.9,404.0 498.1,404.0 499.2,404.0 500.4,404.0 501.6,404.0 502.7,404.0 503.9,404.0 505.1,404.0 506.2,404.0 507.4,404.0 508.6,404.0 509.7,404.0 510.9,404.0 512.0,404.0 513.2,404.0 514.4,404.0 515.5,404.0 516.7,404.0 517.9,404.0 519.0,404.0 520.2,404.0 521.4,404.0" fill="none" stroke="#ff0000" stroke-width="5.4" stroke-linecap="round" stroke-linejoin="round"/>
<path d="M101.5,404.5 102.7,404.5 103.8,404.5 105.0,404.5 106.1,404.5 107.3,404.5 108.4,404.5 109.6,404.5 110.7,404.5 111.9,404.5 113.0,404.5 114.2,404.5 115.3,404.5 116.5,404.5 117.6,404.5 118.8,404.5 119.9,404.5 121.1,404.5 122.2,404.5 123.4,404.5 124.5,404.5 125.7,404.5 126.8,404.5 128.0,404.5 129.1,404.5 130.3,404.5 131.4,404.5 132.6,404.5 133.7,404.5 134.9,404.5 136.1,404.5 137.2,404.5 138.4,404.5 139.5,404.5 140.7,404.5 141.8,404.5 143.0,404.5 144.1,404.5 145.3,404.5 146.4,404.5 147.6,404.5 148.7,404.5 149.9,404.6 151.0,404.6 152.2,404.6 153.3,404.6 154.5,404.6 155.6,404.6 156.8,404.6 157.9,404.6 159.1,404.6 160.2,404.6 161.4,404.7 162.5,404.7 163.7,404.7 164.8,404.7 166.0,404.7 167.1,404.7 168.3,404.7 169.5,404.7 170.6,404.8 171.8,404.8 172.9,404.8 174.1,404.8 175.2,404.8 176.4,404.8 177.5,404.9 178.7,404.9 179.8,404.9 181.0,404.9 182.1,404.9 183.3,405.0 184.4,405.0 185.6,405.0 186.7,405.0 187.9,405.1 189.0,405.1 190.2,405.2 191.3,405.2 192.5,405.2 193.6,405.3 194.8,405.3 195.9,405.4 197.1,405.5 198.2,405.6 199.4,405.7 200.6,405.8 201.7,406.0 202.9,406.2 204.0,406.5 205.2,406.7 206.3,407.1 207.5,407.4 208.6,407.8 209.8,408.3 210.9,408.7 212.1,409.1 213.2,409.6 214.4,410.1 215.5,410.7 216.7,411.3 217.8,411.9 219.0,412.6 220.1,413.3 221.3,414.1 222.4,415.0 223.6,415.9 224.7,417.0 225.9,418.1 227.0,419.4 228.2,420.7 229.3,422.2 230.5,423.7 231.6,425.4 232.8,427.2 234.0,429.2 235.1,431.2 236.3,433.4 237.4,435.7 238.6,438.1 239.7,440.6 240.9,443.2 242.0,445.9 243.2,448.7 244.3,451.6 245.5,454.5 246.6,457.5 247.8,460.5 248.9,463.6 250.1,466.6 251.2,469.7 252.4,472.7 253.5,475.6 254.7,478.5 255.8,481.2 257.0,483.8 258.1,486.2 259.3,488.4 260.4,490.3 261.6,492.1 262.7,493.5 263.9,494.8 265.0,495.9 266.2,496.7 267.4,497.3 268.5,497.7 269.7,497.9 270.8,498.0 272.0,497.9 273.1,497.6 274.3,497.2 275.4,496.7 276.6,496.1 277.7,495.3 278.9,494.5 280.0,493.5 281.2,492.5 282.3,491.3 283.5,490.0 284.6,488.6 285.8,487.0 286.9,485.3 288.1,483.5 289.2,481.6 290.4,479.6 291.5,477.7 292.7,475.7 293.8,473.9 295.0,472.2 296.1,470.5 297.3,469.0 298.4,467.6 299.6,466.3 300.8,465.0 301.9,463.8 303.1,462.7 304.2,461.7 305.4,460.8 306.5,459.9 307.7,459.0 308.8,458.3 310.0,457.6 311.1,457.0 312.3,456.5 313.4,456.1 314.6,455.7 315.7,455.4 316.9,455.2 318.0,455.0 319.2,454.9 320.3,454.9 321.5,455.0 322.6,455.1 323.8,455.4 324.9,455.7 326.1,456.1 327.2,456.5 328.4,457.1 329.5,457.8 330.7,458.5 331.9,459.4 333.0,460.4 334.2,461.5 335.3,462.7 336.5,464.0 337.6,465.5 338.8,467.1 339.9,468.8 341.1,470.6 342.2,472.6 343.4,474.7 344.5,476.9 345.7,479.2 346.8,481.6 348.0,484.0 349.1,486.5 350.3,489.0 351.4,491.6 352.6,494.1 353.7,496.7 354.9,499.3 356.0,501.9 357.2,504.5 358.3,507.2 359.5,509.8 360.6,512.5 361.8,515.1 362.9,517.6 364.1,520.1 365.3,522.6 366.4,524.9 367.6,527.1 368.7,529.2 369.9,531.2 371.0,533.0 372.2,534.7 373.3,536.3 374.5,537.7 375.6,539.0 376.8,540.1 377.9,541.2 379.1,542.1 380.2,543.0 381.4,543.8 382.5,544.4 383.7,545.0 384.8,545.5 386.0,545.9 387.1,546.2 388.3,546.4 389.4,546.6 390.6,546.7 391.7,546.8 392.9,546.8 394.0,546.8 395.2,546.7 396.3,546.6 397.5,546.5 398.7,546.3 399.8,546.1 401.0,545.8 402.1,545.5 403.3,545.2 404.4,544.9 405.6,544.5 406.7,544.1 407.9,543.7 409.0,543.3 410.2,542.9 411.3,542.5 412.5,542.1 413.6,541.7 414.8,541.4 415.9,541.1 417.1,540.8 418.2,540.5 419.4,540.2 420.5,540.0 421.7,539.7 422.8,539.5 424.0,539.3 425.1,539.2 426.3,539.0 427.4,538.9 428.6,538.9 429.7,538.8 430.9,538.8 432.1,538.8 433.2,538.8 434.4,538.7 435.5,538.7 436.7,538.7 437.8,538.8 439.0,538.8 440.1,538.8 441.3,538.8 442.4,538.8 443.6,538.9 444.7,539.0 445.9,539.0 447.0,539.1 448.2,539.3 449.3,539.4 450.5,539.6 451.6,539.7 452.8,539.9 453.9,540.0 455.1,540.2 456.2,540.3 457.4,540.5 458.5,540.6 459.7,540.7 460.8,540.8 462.0,540.9 463.2,541.0 464.3,541.1 465.5,541.1 466.6,541.2 467.8,541.3 468.9,541.4 470.1,541.4 471.2,541.5 472.4,541.5 473.5,541.6 474.7,541.6 475.8,541.7 477.0,541.7 478.1,541.7 479.3,541.7 480.4,541.7 481.6,541.7 482.7,541.7 483.9,541.7 485.0,541.7 486.2,541.7 487.3,541.7 488.5,541.7 489.6,541.6 490.8,541.6 491.9,541.6 493.1,541.6 494.2,541.6 495.4,541.5 496.6,541.5 497.7,541.5 498.9,541.5 500.0,541.5 501.2,541.5 502.3,541.4 503.5,541.4 504.6,541.4 505.8,541.4 506.9,541.4 508.1,541.3 509.2,541.3 510.4,541.3 511.5,541.3 512.7,541.3 513.8,541.2 515.0,541.2 516.1,541.2" fill="none" stroke="#0000ff" stroke-width="5.4" stroke-linecap="round" stroke-linejoin="round" stroke-dasharray="8.75 8.9"/>
<path d="M91.55,350.25H531.5V622.35H91.55Z" fill="none" stroke="#080808" stroke-width="0.62"/><path d="M101.50,622.35v-3.2M101.50,350.25v3.2M119.00,622.35v-1.9M119.00,350.25v1.9M136.49,622.35v-1.9M136.49,350.25v1.9M153.99,622.35v-1.9M153.99,350.25v1.9M171.48,622.35v-3.2M171.48,350.25v3.2M188.98,622.35v-1.9M188.98,350.25v1.9M206.47,622.35v-1.9M206.47,350.25v1.9M223.97,622.35v-1.9M223.97,350.25v1.9M241.46,622.35v-3.2M241.46,350.25v3.2M258.96,622.35v-1.9M258.96,350.25v1.9M276.45,622.35v-1.9M276.45,350.25v1.9M293.95,622.35v-1.9M293.95,350.25v1.9M311.44,622.35v-3.2M311.44,350.25v3.2M328.94,622.35v-1.9M328.94,350.25v1.9M346.43,622.35v-1.9M346.43,350.25v1.9M363.93,622.35v-1.9M363.93,350.25v1.9M381.42,622.35v-3.2M381.42,350.25v3.2M398.92,622.35v-1.9M398.92,350.25v1.9M416.41,622.35v-1.9M416.41,350.25v1.9M433.91,622.35v-1.9M433.91,350.25v1.9M451.40,622.35v-3.2M451.40,350.25v3.2M468.90,622.35v-1.9M468.90,350.25v1.9M486.39,622.35v-1.9M486.39,350.25v1.9M503.89,622.35v-1.9M503.89,350.25v1.9M521.38,622.35v-3.2M521.38,350.25v3.2M91.55,363.65h1.9M531.5,363.65h-1.9M91.55,377.27h1.9M531.5,377.27h-1.9M91.55,390.88h1.9M531.5,390.88h-1.9M91.55,404.50h3.2M531.5,404.50h-3.2M91.55,418.12h1.9M531.5,418.12h-1.9M91.55,431.73h1.9M531.5,431.73h-1.9M91.55,445.35h1.9M531.5,445.35h-1.9M91.55,458.96h3.2M531.5,458.96h-3.2M91.55,472.57h1.9M531.5,472.57h-1.9M91.55,486.19h1.9M531.5,486.19h-1.9M91.55,499.81h1.9M531.5,499.81h-1.9M91.55,513.42h3.2M531.5,513.42h-3.2M91.55,527.03h1.9M531.5,527.03h-1.9M91.55,540.65h1.9M531.5,540.65h-1.9M91.55,554.26h1.9M531.5,554.26h-1.9M91.55,567.88h3.2M531.5,567.88h-3.2M91.55,581.50h1.9M531.5,581.50h-1.9M91.55,595.11h1.9M531.5,595.11h-1.9M91.55,608.73h1.9M531.5,608.73h-1.9M91.55,622.34h3.2M531.5,622.34h-3.2" fill="none" stroke="#080808" stroke-width="0.6"/>
</g>
<g font-family="'Liberation Serif', serif" fill="#000" text-rendering="geometricPrecision">
<text transform="translate(94.4,298.55) scale(1.0,1.03)" text-anchor="middle" font-size="23" font-weight="normal" font-style="normal" >0</text>
<text transform="translate(165.2,298.55) scale(1.0,1.03)" text-anchor="middle" font-size="23" font-weight="normal" font-style="normal" >2</text>
<text transform="translate(235.9,298.55) scale(1.0,1.03)" text-anchor="middle" font-size="23" font-weight="normal" font-style="normal" >4</text>
<text transform="translate(306.6,298.55) scale(1.0,1.03)" text-anchor="middle" font-size="23" font-weight="normal" font-style="normal" >6</text>
<text transform="translate(377.4,298.55) scale(1.0,1.03)" text-anchor="middle" font-size="23" font-weight="normal" font-style="normal" >8</text>
<text transform="translate(449.0,298.55) scale(1.0,1.03)" text-anchor="middle" font-size="23" font-weight="normal" font-style="normal" >10</text>
<text transform="translate(519.8,298.55) scale(1.0,1.03)" text-anchor="middle" font-size="23" font-weight="normal" font-style="normal" >12</text>
<text transform="translate(75.2,257.7) scale(1.0,1.03)" text-anchor="end" font-size="23" font-weight="normal" font-style="normal" >0</text>
<text transform="translate(75.2,211.8) scale(1.0,1.03)" text-anchor="end" font-size="23" font-weight="normal" font-style="normal" >0.2</text>
<text transform="translate(75.2,165.9) scale(1.0,1.03)" text-anchor="end" font-size="23" font-weight="normal" font-style="normal" >0.4</text>
<text transform="translate(75.2,120.0) scale(1.0,1.03)" text-anchor="end" font-size="23" font-weight="normal" font-style="normal" >0.6</text>
<text transform="translate(75.2,74.1) scale(1.0,1.03)" text-anchor="end" font-size="23" font-weight="normal" font-style="normal" >0.8</text>
<text transform="translate(75.2,28.2) scale(1.0,1.03)" text-anchor="end" font-size="23" font-weight="normal" font-style="normal" >1</text>
<text transform="translate(307.0,321.5) scale(0.98,1.03)" text-anchor="middle" font-size="23" font-weight="bold" font-style="normal" >Log a</text>
<path transform="translate(34.7,144.95) rotate(-90) scale(0.955,0.952)" d="M0.000,0.000L0.000,-3.524L0.529,-3.524Q0.705,-2.070 1.894,-1.982L4.317,-1.982C2.555,-4.185 1.454,-6.608 1.454,-9.031C1.454,-12.996 4.537,-15.551 8.282,-15.551C12.026,-15.551 15.110,-12.996 15.110,-9.031C15.110,-6.608 14.009,-4.185 12.247,-1.982L14.229,-1.982Q15.419,-2.070 15.595,-3.524L16.123,-3.524L16.123,0.000L10.132,0.000L10.132,-0.573C11.145,-2.203 12.687,-5.507 12.687,-9.031C12.687,-12.335 11.145,-14.670 8.282,-14.670C5.419,-14.670 3.877,-12.335 3.877,-9.031C3.877,-5.507 5.419,-2.203 6.432,-0.573L6.432,0.000Z"/>
<path transform="translate(258.4,63.25) scale(0.955,0.952)" d="M0.000,0.000L0.000,-3.524L0.529,-3.524Q0.705,-2.070 1.894,-1.982L4.317,-1.982C2.555,-4.185 1.454,-6.608 1.454,-9.031C1.454,-12.996 4.537,-15.551 8.282,-15.551C12.026,-15.551 15.110,-12.996 15.110,-9.031C15.110,-6.608 14.009,-4.185 12.247,-1.982L14.229,-1.982Q15.419,-2.070 15.595,-3.524L16.123,-3.524L16.123,0.000L10.132,0.000L10.132,-0.573C11.145,-2.203 12.687,-5.507 12.687,-9.031C12.687,-12.335 11.145,-14.670 8.282,-14.670C5.419,-14.670 3.877,-12.335 3.877,-9.031C3.877,-5.507 5.419,-2.203 6.432,-0.573L6.432,0.000Z"/>
<g transform="translate(279.45,63.85) skewX(-17)"><path fill-rule="evenodd" d="M-3.8,0A3.8,3.6 0 1 1 3.8,0A3.8,3.6 0 1 1 -3.8,0ZM-2.7,0A2.7,3.05 0 1 1 2.7,0A2.7,3.05 0 1 1 -2.7,0Z"/></g>
<path d="M281.7,57.1L280.9,57.4L277.0,70.6L277.6,70.7Z" stroke="#000" stroke-width="0.5" stroke-linejoin="round"/>
<text transform="translate(233.8,248.0) scale(1.0,1.0)" text-anchor="start" font-size="23" font-weight="bold" font-style="normal" >10</text>
<path d="M264.1,236.3L274.6,247.6M274.6,236.3L264.1,247.6" stroke="#000" stroke-width="1.15" fill="none"/>
<path transform="translate(282.8,247.5) scale(0.96,0.952)" d="M0.000,0.000L0.000,-3.524L0.529,-3.524Q0.705,-2.070 1.894,-1.982L4.317,-1.982C2.555,-4.185 1.454,-6.608 1.454,-9.031C1.454,-12.996 4.537,-15.551 8.282,-15.551C12.026,-15.551 15.110,-12.996 15.110,-9.031C15.110,-6.608 14.009,-4.185 12.247,-1.982L14.229,-1.982Q15.419,-2.070 15.595,-3.524L16.123,-3.524L16.123,0.000L10.132,0.000L10.132,-0.573C11.145,-2.203 12.687,-5.507 12.687,-9.031C12.687,-12.335 11.145,-14.670 8.282,-14.670C5.419,-14.670 3.877,-12.335 3.877,-9.031C3.877,-5.507 5.419,-2.203 6.432,-0.573L6.432,0.000Z"/>
<text transform="translate(298.9,252.7) scale(1.0,1.0)" text-anchor="start" font-size="16.2" font-weight="bold" font-style="normal" >b</text>
<text transform="translate(101.5,645.55) scale(1.0,1.03)" text-anchor="middle" font-size="23" font-weight="normal" font-style="normal" >0</text>
<text transform="translate(171.5,645.55) scale(1.0,1.03)" text-anchor="middle" font-size="23" font-weight="normal" font-style="normal" >2</text>
<text transform="translate(241.5,645.55) scale(1.0,1.03)" text-anchor="middle" font-size="23" font-weight="normal" font-style="normal" >4</text>
<text transform="translate(311.4,645.55) scale(1.0,1.03)" text-anchor="middle" font-size="23" font-weight="normal" font-style="normal" >6</text>
<text transform="translate(381.4,645.55) scale(1.0,1.03)" text-anchor="middle" font-size="23" font-weight="normal" font-style="normal" >8</text>
<text transform="translate(452.3,645.55) scale(1.0,1.03)" text-anchor="middle" font-size="23" font-weight="normal" font-style="normal" >10</text>
<text transform="translate(522.3,645.55) scale(1.0,1.03)" text-anchor="middle" font-size="23" font-weight="normal" font-style="normal" >12</text>
<text transform="translate(82.5,356.09) scale(1.0,1.03)" text-anchor="end" font-size="23" font-weight="normal" font-style="normal" >0.2</text>
<text transform="translate(82.5,409.80) scale(1.0,1.03)" text-anchor="end" font-size="23" font-weight="normal" font-style="normal" >0</text>
<text transform="translate(82.5,464.26) scale(1.0,1.03)" text-anchor="end" font-size="23" font-weight="normal" font-style="normal" >0.2</text>
<rect x="39.4" y="457.74" width="11.7" height="1.15"/>
<text transform="translate(82.5,518.72) scale(1.0,1.03)" text-anchor="end" font-size="23" font-weight="normal" font-style="normal" >0.4</text>
<rect x="39.4" y="512.19" width="11.7" height="1.15"/>
<text transform="translate(82.5,573.18) scale(1.0,1.03)" text-anchor="end" font-size="23" font-weight="normal" font-style="normal" >0.6</text>
<rect x="39.4" y="566.65" width="11.7" height="1.15"/>
<text transform="translate(311.7,668.6) scale(0.98,1.03)" text-anchor="middle" font-size="23" font-weight="bold" font-style="normal" >Log a</text>
<text transform="translate(26.3,503.9) rotate(-90)" font-size="23" font-weight="bold">w</text>
<text transform="translate(29.4,488.4) rotate(-90) scale(1.086,1)" font-size="16" font-weight="bold">eff</text>
<text transform="translate(386,396.5) scale(1.0,1.0)" text-anchor="start" font-size="23" font-weight="bold" font-style="normal" >non</text>
<rect x="423.1" y="389.5" width="12.2" height="1.25"/>
<text transform="translate(436.2,396.5) scale(1.0,1.0)" text-anchor="start" font-size="23" font-weight="bold" font-style="normal" >local</text>
<text transform="translate(410.9,582.1) scale(1.0,1.0)" text-anchor="start" font-size="23" font-weight="bold" font-style="normal" >local</text>
</g>
</svg>
</body></html>
